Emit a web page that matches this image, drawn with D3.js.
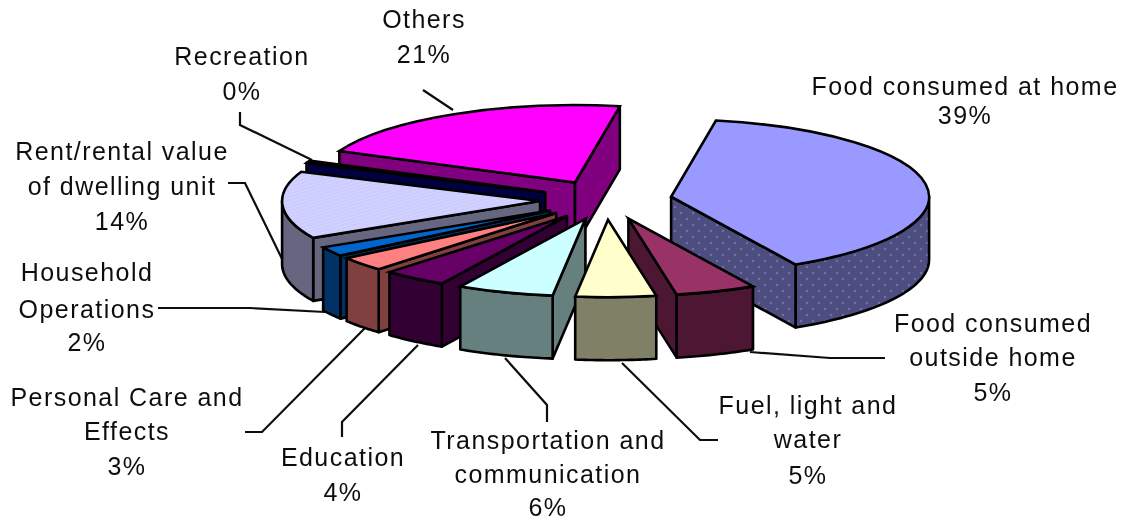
<!DOCTYPE html>
<html>
<head>
<meta charset="utf-8">
<script src="https://d3js.org/d3.v7.min.js"></script>
<style>
  html, body { margin: 0; background: white; }
  text { font-family: "Liberation Sans", Arial, sans-serif; font-size: 25px; letter-spacing: 1.45px; fill: #111; }
</style>
</head>
<body>
<div id="my_dataviz"></div>
<script>
// data, clockwise from the top of the pie
var categories = ["Food consumed at home", "Food consumed outside home", "Fuel, light and water",
    "Transportation and communication", "Education", "Personal Care and Effects",
    "Household Operations", "Rent/rental value of dwelling unit", "Recreation", "Others"];
var values = [39, 5, 5, 6, 4, 3, 2, 14, 0.49, 21];
var labelLines = [["Food consumed at home"], ["Food consumed", "outside home"], ["Fuel, light and", "water"],
    ["Transportation and", "communication"], ["Education"], ["Personal Care and", "Effects"],
    ["Household", "Operations"], ["Rent/rental value", "of dwelling unit"], ["Recreation"], ["Others"]];
var topColors = ["#9999ff", "#993366", "#ffffcc", "#ccffff", "#660066", "#ff8080", "#0066cc", "#ccccff", "#000080", "#ff00ff"];
var wallColors = ["#4d4d80", "#4d1933", "#808066", "#668080", "#330033", "#804040", "#003366", "#666680", "#000040", "#800080"];

// layout of the labels: centre x, then centre y of each line
var labelPos = [[965, [87, 116]], [993, [324, 358, 393]], [808, [406, 440, 476]], [548, [441, 475, 508]],
    [343, [458, 493]], [127, [398, 432, 467]], [87, [273, 310, 343]], [122, [152, 187, 222]],
    [242, [57, 92]], [424, [20, 55]]];
var leaders = [
    [[885, 358], [830, 358], [750, 352]],
    [[718, 440], [700, 440], [622, 363]],
    [[547, 422], [547, 405], [505, 358]],
    [[342, 437], [342, 422], [418, 345]],
    [[245, 432], [262, 432], [365, 328]],
    [[158, 308], [250, 308], [325, 312]],
    [[228, 183], [245, 183], [285, 265]],
    [[240, 112], [240, 125], [312, 160]],
    [[423, 90], [453, 110]]
];

var width = 1128, height = 521;
var cx = 606, cy = 200, rx = 258, squash = 0.3, depth = 63, explode = 66;
var firstAngle = 10 * Math.PI / 180;

var svg = d3.select("#my_dataviz").append("svg")
    .attr("width", width)
    .attr("height", height)
    .style("display", "block");

var defs = svg.append("defs");
defs.append("filter").attr("id", "soft")
    .attr("filterUnits", "userSpaceOnUse")
    .attr("x", 0).attr("y", 0).attr("width", width).attr("height", height)
    .append("feGaussianBlur").attr("stdDeviation", 0.7);

// dotted side of the biggest slice
var dots = defs.append("pattern").attr("id", "dots")
    .attr("width", 12).attr("height", 12)
    .attr("patternUnits", "userSpaceOnUse");
dots.append("rect").attr("width", 12).attr("height", 12).attr("fill", wallColors[0]);
dots.append("circle").attr("cx", 3).attr("cy", 3).attr("r", 1.2).attr("fill", "#7070a8");
dots.append("circle").attr("cx", 9).attr("cy", 9).attr("r", 1.2).attr("fill", "#7070a8");

// faint hatch on the rent slice
var hatch = defs.append("pattern").attr("id", "hatch")
    .attr("width", 8).attr("height", 8)
    .attr("patternUnits", "userSpaceOnUse")
    .attr("patternTransform", "rotate(45)");
hatch.append("rect").attr("width", 8).attr("height", 8).attr("fill", topColors[7]);
hatch.append("rect").attr("width", 2).attr("height", 8).attr("fill", "#d6d6ff");

var g = svg.append("g").attr("filter", "url(#soft)");

var pie = d3.pie().sort(null).value(function (d) { return d; })
    .startAngle(firstAngle).endAngle(firstAngle + 2 * Math.PI);
var arcs = pie(values);

var arc = d3.arc().innerRadius(0).outerRadius(rx);
var line = d3.line();

// leader lines go under the slices
g.selectAll(".leader").data(leaders).enter().append("path")
    .attr("class", "leader")
    .attr("d", line)
    .attr("fill", "none")
    .attr("stroke", "#111")
    .attr("stroke-width", 2.2);

function apexOf(d) {
    var mid = (d.startAngle + d.endAngle) / 2;
    return [cx + explode * Math.sin(mid), cy - explode * squash * Math.cos(mid)];
}
function rim(apex, a, z) {
    return [apex[0] + rx * Math.sin(a), apex[1] - rx * squash * Math.cos(a) + z];
}

// back slices first
var order = arcs.slice().sort(function (a, b) {
    return -Math.cos((a.startAngle + a.endAngle) / 2) + Math.cos((b.startAngle + b.endAngle) / 2);
});

order.forEach(function (d) {
    var apex = apexOf(d);
    var wall = d.index == 0 ? "url(#dots)" : wallColors[d.index];
    var top = d.index == 7 ? "url(#hatch)" : topColors[d.index];
    var slice = g.append("g").attr("class", "slice");

    function addWall(points) {
        slice.append("path")
            .attr("d", line(points) + "Z")
            .attr("fill", wall)
            .attr("stroke", "#000")
            .attr("stroke-width", 2.6)
            .attr("stroke-linejoin", "round");
    }

    // flat sides that face the viewer
    if (Math.sin(d.startAngle) < 0) {
        addWall([[apex[0], apex[1]], rim(apex, d.startAngle, 0), rim(apex, d.startAngle, depth), [apex[0], apex[1] + depth]]);
    }
    if (Math.sin(d.endAngle) > 0) {
        addWall([[apex[0], apex[1]], rim(apex, d.endAngle, 0), rim(apex, d.endAngle, depth), [apex[0], apex[1] + depth]]);
    }

    // curved side, only the part in front
    var a0 = Math.max(d.startAngle, Math.PI / 2), a1 = Math.min(d.endAngle, 3 * Math.PI / 2);
    if (a1 > a0) {
        var steps = d3.range(0, 25).map(function (i) { return a0 + (a1 - a0) * i / 24; });
        var upper = steps.map(function (a) { return rim(apex, a, 0); });
        var lower = steps.slice().reverse().map(function (a) { return rim(apex, a, depth); });
        addWall(upper.concat(lower));
    }

    // top face, squashed circle sector
    slice.append("path")
        .attr("d", arc(d))
        .attr("transform", "translate(" + apex[0] + "," + apex[1] + ") scale(1," + squash + ")")
        .attr("fill", top)
        .attr("stroke", "#000")
        .attr("stroke-width", 2.6)
        .attr("vector-effect", "non-scaling-stroke");
});

// labels: name lines then the rounded percent
categories.forEach(function (name, i) {
    var lines = labelLines[i].concat([Math.round(values[i]) + "%"]);
    lines.forEach(function (t, j) {
        g.append("text")
            .attr("x", labelPos[i][0])
            .attr("y", labelPos[i][1][j] + 8)
            .attr("text-anchor", "middle")
            .text(t);
    });
});
</script>
</body>
</html>
